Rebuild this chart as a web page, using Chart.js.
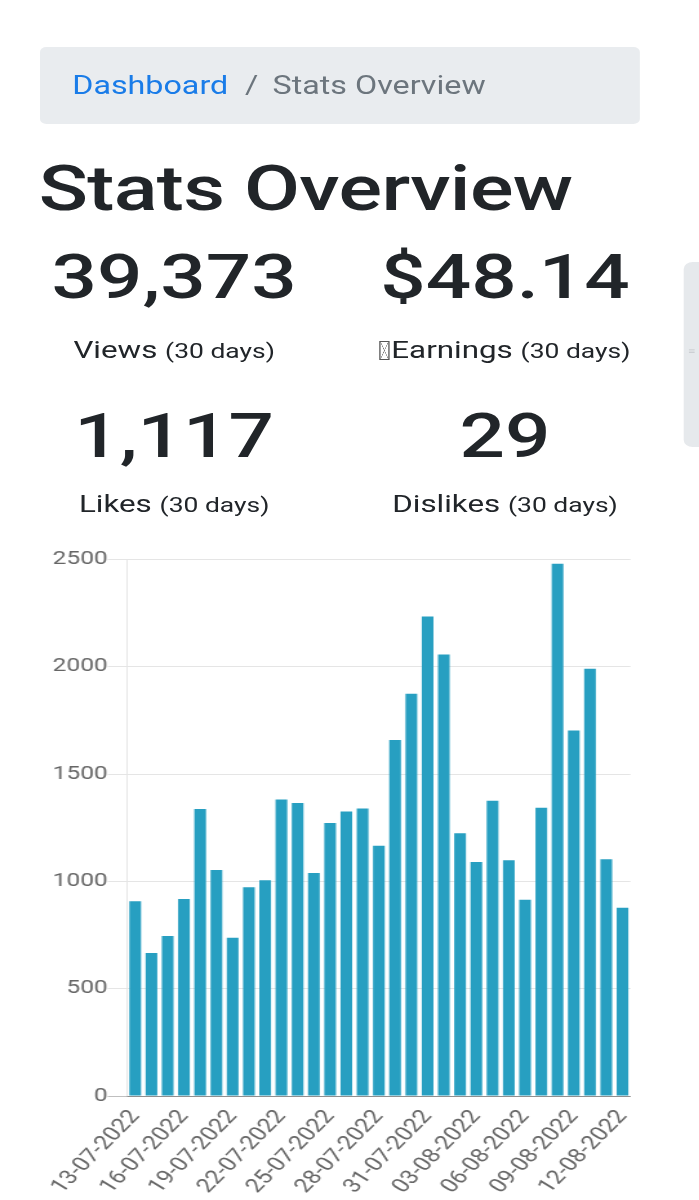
<!DOCTYPE html>
<html>
<head>
<meta charset="utf-8">
<script src="https://cdn.jsdelivr.net/npm/chart.js@4.4.1/dist/chart.umd.min.js"></script>
<style>
  html, body { margin: 0; padding: 0; background: #fff; }
  body { width: 699px; height: 1200px; overflow: hidden; font-family: Roboto, "Noto Sans", sans-serif; color: #212529; }
  /* the reference is a phone shot stretched sideways, so lay out narrow and stretch */
  #page { position: absolute; left: 0; top: 0; width: 542px; height: 1200px; transform: scaleX(1.29); transform-origin: 0 0; }
  .crumb { position: absolute; left: 31px; top: 47px; width: 465px; height: 77px; background: #e9ecef; border-radius: 5px; }
  .crumb-text { position: absolute; left: 25px; top: 0; line-height: 77px; font-size: 25px; white-space: nowrap; }
  .crumb-text a { color: #1a7ce8; text-decoration: none; }
  .crumb-text .sep { color: #6c757d; padding: 0 11px 0 13px; }
  .crumb-text .cur { color: #6c757d; }
  h1 { position: absolute; left: 30px; top: 157px; margin: 0; font-size: 63px; letter-spacing: -0.5px; line-height: 1; font-weight: 500; white-space: nowrap; }
  .stat { position: absolute; width: 300px; text-align: center; white-space: nowrap; }
  .num { font-size: 62px; line-height: 1; font-weight: 500; }
  .lbl { font-size: 24.3px; line-height: 1; }
  .lbl small { font-size: 20.5px; }
  .tofu { display: inline-block; width: 6px; height: 17px; margin-right: 1px; vertical-align: -2px; border: 1px solid #555;
          background: linear-gradient(to bottom right, transparent 46%, #777 50%, transparent 54%),
                      linear-gradient(to bottom left, transparent 46%, #777 50%, transparent 54%); }
  .tab { position: absolute; left: 529.5px; top: 262px; width: 20px; height: 185px; background: #e6e9ec; border-radius: 7px 0 0 7px; }
  .tab span { position: absolute; left: 4px; top: 84px; font-size: 9px; color: #c4c8cc; }
  .chart-box { position: absolute; left: 31px; top: 548px; width: 472px; height: 652px; }
</style>
</head>
<body>
<div id="page">
  <div class="crumb">
    <div class="crumb-text"><a href="#">Dashboard</a><span class="sep">/</span><span class="cur">Stats Overview</span></div>
  </div>
  <h1>Stats Overview</h1>

  <div class="stat num" style="left:-15px; top:246px;">39,373</div>
  <div class="stat lbl" style="left:-15px; top:338px;">Views <small>(30 days)</small></div>
  <div class="stat num" style="left:241.5px; top:246px;">$48.14</div>
  <div class="stat lbl" style="left:241.5px; top:338px;"><span class="tofu"></span>Earnings <small>(30 days)</small></div>

  <div class="stat num" style="left:-15px; top:405px;">1,117</div>
  <div class="stat lbl" style="left:-15px; top:492px;">Likes <small>(30 days)</small></div>
  <div class="stat num" style="left:241.5px; top:405px;">29</div>
  <div class="stat lbl" style="left:241.5px; top:492px;">Dislikes <small>(30 days)</small></div>

  <div class="tab"><span>≡</span></div>

  <div class="chart-box"><canvas id="viewsChart"></canvas></div>
</div>

<script>
// daily views, 13-07-2022 .. 12-08-2022
const days = [
  "13-07-2022", "14-07-2022", "15-07-2022", "16-07-2022", "17-07-2022", "18-07-2022",
  "19-07-2022", "20-07-2022", "21-07-2022", "22-07-2022", "23-07-2022", "24-07-2022",
  "25-07-2022", "26-07-2022", "27-07-2022", "28-07-2022", "29-07-2022", "30-07-2022",
  "31-07-2022", "01-08-2022", "02-08-2022", "03-08-2022", "04-08-2022", "05-08-2022",
  "06-08-2022", "07-08-2022", "08-08-2022", "09-08-2022", "10-08-2022", "11-08-2022",
  "12-08-2022"
];
const views = [
  907, 666, 745, 918, 1337, 1053,
  737, 973, 1005, 1381, 1365, 1039,
  1272, 1325, 1340, 1166, 1659, 1874,
  2234, 2057, 1224, 1090, 1376, 1098,
  914, 1343, 2480, 1703, 1990, 1103,
  877
];
const yTicks = [0, 500, 1000, 1500, 2000, 2500];

Chart.defaults.font.family = 'Roboto';
Chart.defaults.font.size = 19.5;
Chart.defaults.color = '#666';

const chart = new Chart(document.getElementById('viewsChart'), {
  type: 'bar',
  data: {
    labels: days,
    datasets: [{
      label: 'Views',
      data: views,
      backgroundColor: '#279fc1',
      borderWidth: 0
    }]
  },
  options: {
    responsive: true,
    maintainAspectRatio: false,
    animation: false,
    layout: { padding: 0 },
    plugins: { legend: { display: false }, tooltip: { enabled: false } },
    scales: {
      x: {
        grid: { display: false },
        border: { color: 'rgba(0,0,0,0.25)' },
        ticks: {
          autoSkip: false,
          minRotation: 52,
          maxRotation: 52,
          padding: 2,
          // every third day, like the reference
          callback: function(val, i) { return i % 3 === 0 ? days[i] : ''; }
        }
      },
      y: {
        min: 0,
        max: 2500,
        afterBuildTicks: function(axis) { axis.ticks = yTicks.map(v => ({ value: v })); },
        afterFit: function(axis) { axis.width = 67.5; },
        grid: {
          color: ctx => ctx.tick && ctx.tick.value === 0 ? 'rgba(0,0,0,0.25)' : 'rgba(0,0,0,0.1)',
          tickLength: 15
        },
        border: { color: 'rgba(0,0,0,0.1)' },
        ticks: { padding: 0, font: { size: 19 }, callback: v => String(v) }
      }
    }
  }
});
</script>
</body>
</html>
